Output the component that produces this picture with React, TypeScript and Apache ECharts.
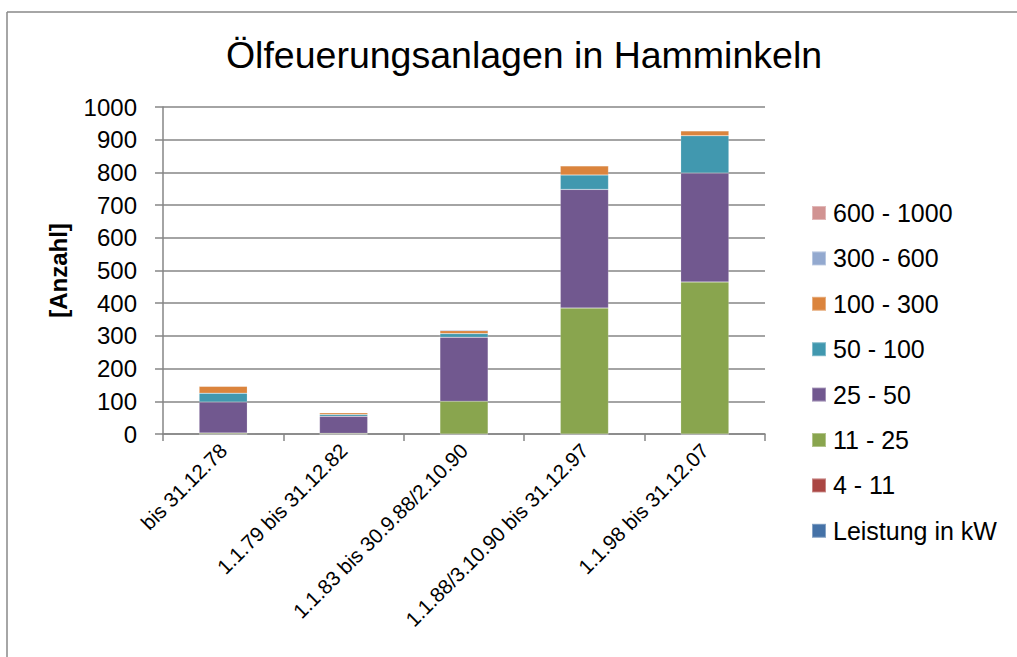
import React, { useEffect, useRef } from "react";
import * as echarts from "echarts";

const categories = [
  "bis 31.12.78",
  "1.1.79 bis 31.12.82",
  "1.1.83 bis 30.9.88/2.10.90",
  "1.1.88/3.10.90 bis 31.12.97",
  "1.1.98 bis 31.12.07",
];

const seriesNames = [
  "Leistung in kW",
  "4 - 11",
  "11 - 25",
  "25 - 50",
  "50 - 100",
  "100 - 300",
  "300 - 600",
  "600 - 1000",
];

const leistung = [0, 0, 0, 0, 0];
const kw4to11 = [0, 0, 0, 0, 0];
const kw11to25 = [3, 2, 100, 385, 465];
const kw25to50 = [95, 52, 196, 363, 333];
const kw50to100 = [27, 6, 11, 44, 114];
const kw100to300 = [21, 5, 9, 28, 15];
const kw300to600 = [1, 1, 3, 0, 0];
const kw600to1000 = [0, 0, 0, 0, 0];

const seriesValues = [
  leistung,
  kw4to11,
  kw11to25,
  kw25to50,
  kw50to100,
  kw100to300,
  kw300to600,
  kw600to1000,
];

const colors = [
  "#4572A7",
  "#AA4643",
  "#89A54E",
  "#71588F",
  "#4198AF",
  "#DB843D",
  "#93A9CF",
  "#D19392",
];

const yTicks = { min: 0, max: 1000, interval: 100 };

const FONT = "Liberation Sans, Arial, sans-serif";

export default function App() {
  const ref = useRef<HTMLDivElement>(null);
  useEffect(() => {
    if (!ref.current) return;
    const chart = echarts.init(ref.current, null, { renderer: "svg" });
    chart.setOption({
      animation: false,
      backgroundColor: "#fff",
      color: colors,
      title: {
        text: "Ölfeuerungsanlagen in Hamminkeln",
        left: 519,
        top: 31,
        textAlign: "center",
        textStyle: { fontFamily: FONT, fontSize: 37.5, fontWeight: "normal", color: "#000" },
      },
      legend: {
        orient: "vertical",
        left: 806,
        top: 195,
        data: [...seriesNames].reverse(),
        icon: "rect",
        itemWidth: 14,
        itemHeight: 14,
        itemGap: 19.4,
        textStyle: { fontFamily: FONT, fontSize: 25, color: "#000", lineHeight: 26, padding: [0, 0, 0, 2] },
      },
      grid: { left: 163, right: 252, top: 107, bottom: 223, containLabel: false },
      xAxis: {
        type: "category",
        data: categories,
        axisLine: { lineStyle: { color: "#868686", width: 1.5 } },
        axisTick: { show: true, length: 7, lineStyle: { color: "#868686", width: 1.5 } },
        axisLabel: {
          rotate: 45,
          fontFamily: FONT,
          fontSize: 20.5,
          color: "#000",
          margin: 13,
          interval: 0,
        },
      },
      yAxis: {
        type: "value",
        min: yTicks.min,
        max: yTicks.max,
        interval: yTicks.interval,
        name: "[Anzahl]",
        nameLocation: "middle",
        nameGap: 93,
        nameTextStyle: { fontFamily: FONT, fontSize: 24, fontWeight: "bold", color: "#000" },
        axisLine: { show: true, lineStyle: { color: "#868686", width: 1.5 } },
        axisTick: { show: true, length: 8, lineStyle: { color: "#868686", width: 1.5 } },
        axisLabel: {
          fontFamily: FONT,
          fontSize: 24,
          color: "#000",
          margin: 26,
          formatter: (v: number) => String(v),
        },
        splitLine: { show: true, lineStyle: { color: "#868686", width: 1.5 } },
      },
      graphic: [
        { type: "line", shape: { x1: 7, y1: 12, x2: 1017, y2: 12 }, style: { stroke: "#888", lineWidth: 1.5 } },
        { type: "line", shape: { x1: 7, y1: 12, x2: 7, y2: 657 }, style: { stroke: "#888", lineWidth: 1.5 } },
      ],
      series: seriesNames.map((name, i) => ({
        name,
        type: "bar",
        stack: "total",
        barWidth: "40%",
        data: seriesValues[i],
        itemStyle: { color: colors[i], borderColor: "rgba(255,255,255,0.35)", borderWidth: 0.5 },
      })),
    });
    return () => chart.dispose();
  }, []);
  return <div ref={ref} style={{ width: 1017, height: 657, position: "absolute", left: 0, top: 0 }} />;
}
